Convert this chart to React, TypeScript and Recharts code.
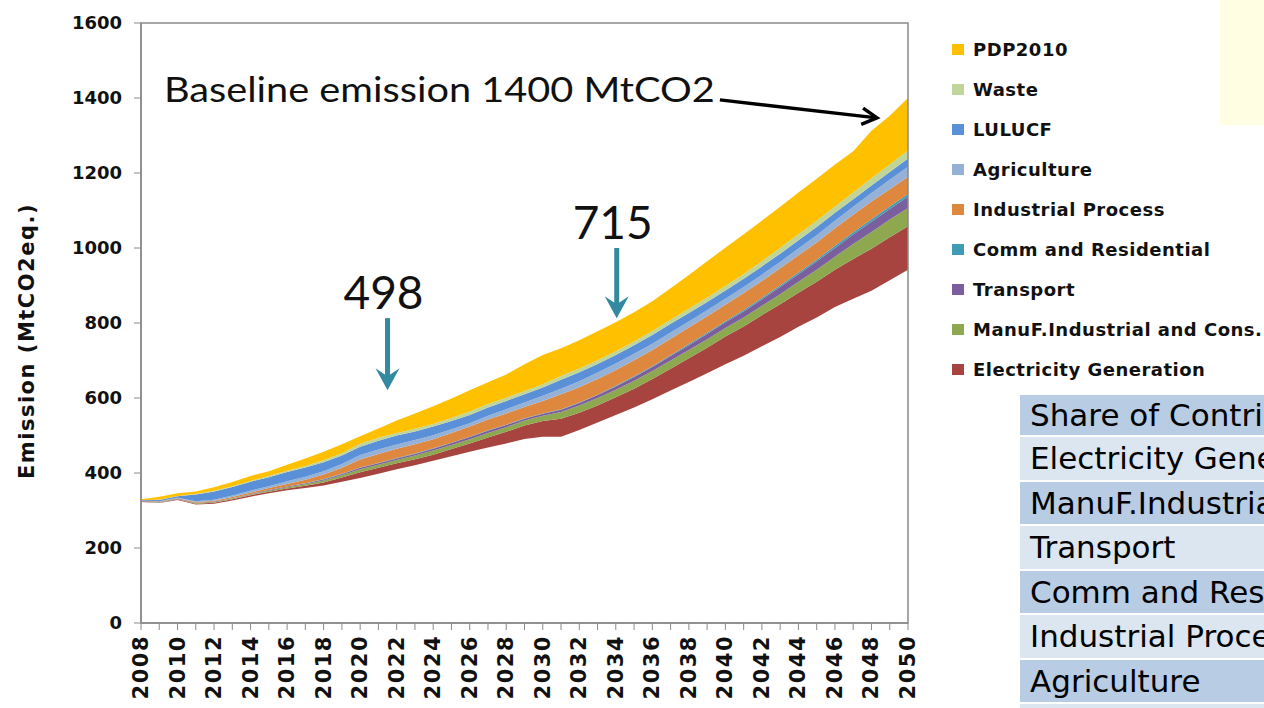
import { AreaChart, Area, XAxis, YAxis, ReferenceLine, ReferenceArea } from "recharts"

const YEARS = [
  2008, 2009, 2010, 2011, 2012, 2013, 2014, 2015, 2016, 2017,
  2018, 2019, 2020, 2021, 2022, 2023, 2024, 2025, 2026, 2027,
  2028, 2029, 2030, 2031, 2032, 2033, 2034, 2035, 2036, 2037,
  2038, 2039, 2040, 2041, 2042, 2043, 2044, 2045, 2046, 2047,
  2048, 2049, 2050,
]
const Y_TICKS = [0, 200, 400, 600, 800, 1000, 1200, 1400, 1600]

// emissions left after all measures (invisible bottom of the stack)
const REMAINING = [
  323, 320, 328, 316, 318, 327, 337, 346, 354, 360,
  367, 377, 387, 398, 410, 421, 433, 445, 457, 468,
  479, 491, 497, 497, 515, 535, 555, 575, 597, 620,
  643, 666, 690, 713, 738, 763, 790, 815, 843, 865,
  886, 914, 942,
]
const ELECTRICITY = [
  1, 1, 2, 2, 3, 3, 4, 4, 5, 6,
  8, 11, 15, 16, 16, 16, 16, 19, 22, 27,
  31, 36, 42, 48, 46, 45, 47, 50, 54, 58,
  63, 68, 74, 78, 83, 87, 91, 95, 99, 106,
  112, 115, 116,
]
const MANUF = [
  1, 1, 1, 2, 2, 2, 2, 3, 3, 4,
  5, 6, 8, 8, 9, 10, 11, 11, 11, 12,
  12, 13, 14, 18, 19, 20, 20, 21, 21, 22,
  22, 23, 23, 24, 25, 27, 29, 32, 35, 40,
  45, 47, 49,
]
const TRANSPORT = [
  1, 1, 1, 1, 1, 1, 1, 2, 2, 2,
  3, 3, 4, 4, 4, 4, 5, 5, 6, 6,
  6, 5, 5, 6, 7, 8, 9, 10, 11, 12,
  13, 14, 15, 16, 17, 19, 20, 22, 23, 25,
  27, 28, 30,
]
const COMM_RES = [
  0, 0, 0, 0, 0, 0, 0, 0, 0, 1,
  1, 1, 1, 1, 1, 1, 1, 1, 1, 1,
  1, 1, 1, 1, 1, 1, 2, 2, 2, 2,
  3, 3, 3, 4, 4, 4, 5, 5, 6, 6,
  7, 7, 7,
]
const IND_PROCESS = [
  1, 1, 1, 2, 2, 3, 4, 5, 7, 9,
  12, 16, 21, 24, 25, 25, 24, 26, 27, 29,
  30, 30, 33, 40, 41, 42, 42, 43, 43, 44,
  44, 44, 44, 45, 45, 46, 46, 46, 47, 47,
  47, 46, 46,
]
const AGRICULTURE = [
  0, 1, 1, 2, 3, 4, 5, 5, 7, 8,
  9, 10, 12, 12, 11, 11, 11, 10, 9, 10,
  11, 12, 14, 15, 16, 17, 17, 17, 17, 17,
  16, 16, 16, 16, 17, 17, 18, 19, 20, 21,
  23, 25, 27,
]
const LULUCF = [
  1, 3, 4, 18, 22, 23, 24, 24, 25, 25,
  24, 23, 22, 23, 24, 23, 23, 22, 22, 22,
  22, 22, 22, 24, 24, 23, 23, 23, 23, 23,
  23, 22, 22, 22, 22, 22, 22, 22, 21, 20,
  20, 21, 22,
]
const WASTE = [
  0, 1, 1, 1, 2, 2, 2, 3, 3, 4,
  5, 6, 8, 8, 7, 7, 7, 8, 9, 9,
  9, 9, 9, 10, 10, 10, 10, 10, 11, 11,
  11, 12, 12, 13, 14, 15, 16, 17, 17, 18,
  19, 20, 22,
]
const PDP2010 = [
  2, 8, 7, 7, 9, 11, 13, 13, 16, 20,
  23, 24, 20, 25, 33, 41, 47, 52, 57, 58,
  62, 71, 78, 74, 75, 77, 77, 78, 79, 84,
  90, 97, 102, 106, 108, 110, 111, 112, 112, 110,
  127, 130, 139,
]

// stacking order, bottom to top
const SERIES = [
  { key: "electricity", name: "Electricity Generation", color: "#A8443F", values: ELECTRICITY },
  { key: "manuf", name: "ManuF.Industrial and Cons.", color: "#8DA84E", values: MANUF },
  { key: "transport", name: "Transport", color: "#7A5E9E", values: TRANSPORT },
  { key: "commRes", name: "Comm and Residential", color: "#409CB4", values: COMM_RES },
  { key: "indProcess", name: "Industrial Process", color: "#DE873F", values: IND_PROCESS },
  { key: "agriculture", name: "Agriculture", color: "#95B1D6", values: AGRICULTURE },
  { key: "lulucf", name: "LULUCF", color: "#5990D8", values: LULUCF },
  { key: "waste", name: "Waste", color: "#BFD59A", values: WASTE },
  { key: "pdp2010", name: "PDP2010", color: "#FFC000", values: PDP2010 },
]

const SHARE_ROWS = [
  "Share of Contribution",
  "Electricity Generation",
  "ManuF.Industrial and Cons.",
  "Transport",
  "Comm and Residential",
  "Industrial Process",
  "Agriculture",
  "LULUCF",
]

const data = YEARS.map((year, i) => {
  const row: Record<string, number> = { year, remaining: REMAINING[i] }
  SERIES.forEach((s) => {
    row[s.key] = s.values[i]
  })
  return row
})

const AXIS_GREY = "#8a8a8a"
const TEAL = "#3389A0"
const TICK_FONT = "'DejaVu Sans', Verdana, sans-serif"
const NOTE_FONT = "Lato, 'Open Sans', sans-serif"

function YearTick({ x, y, payload }: any) {
  if (payload.value % 2 !== 0) return <g />
  return (
    <text
      x={x}
      y={y}
      transform={`rotate(-90 ${x} ${y})`}
      textAnchor="end"
      dominantBaseline="central"
      fontFamily={TICK_FONT}
      fontWeight={700}
      fontSize={21}
      letterSpacing={1.5}
      fill="#111"
    >
      {payload.value}
    </text>
  )
}

function YTitle({ viewBox }: any) {
  const vb = viewBox ?? { x: 0, y: 23, width: 141, height: 600 }
  const cx = vb.x + 27
  const cy = vb.y + vb.height / 2 + 18
  return (
    <text
      x={cx}
      y={cy}
      transform={`rotate(-90 ${cx} ${cy})`}
      textAnchor="middle"
      dominantBaseline="central"
      fontFamily={TICK_FONT}
      fontWeight={700}
      fontSize={21}
      letterSpacing={1.5}
      fill="#111"
    >
      Emission (MtCO2eq.)
    </text>
  )
}

const tealArrow = (label: string) => (p: any) => {
  const { x1, y1, x2, y2 } = p
  return (
    <g>
      <text x={x1 - 4} y={y1 - 9} textAnchor="middle" fontFamily={NOTE_FONT} fontSize={46} fill="#111">
        {label}
      </text>
      <line x1={x1} y1={y1} x2={x2} y2={y2 - 12} stroke={TEAL} strokeWidth={5} />
      <path d={`M ${x2} ${y2} L ${x2 - 12} ${y2 - 22} L ${x2} ${y2 - 14} L ${x2 + 12} ${y2 - 22} Z`} fill={TEAL} />
    </g>
  )
}

const baselineArrow = (p: any) => {
  const { x1, y1, x2, y2 } = p
  const ang = Math.atan2(y2 - y1, x2 - x1)
  const len = 17
  const a1 = ang + Math.PI - 0.5
  const a2 = ang + Math.PI + 0.5
  return (
    <g>
      <text
        x={x1 - 556}
        y={y1 + 2}
        textLength={551}
        lengthAdjust="spacingAndGlyphs"
        fontFamily={NOTE_FONT}
        fontSize={35}
        fill="#111"
      >
        Baseline emission 1400 MtCO2
      </text>
      <line x1={x1} y1={y1} x2={x2} y2={y2} stroke="#000" strokeWidth={3.5} />
      <polyline
        points={`${x2 + len * Math.cos(a1)},${y2 + len * Math.sin(a1)} ${x2},${y2} ${x2 + len * Math.cos(a2)},${y2 + len * Math.sin(a2)}`}
        fill="none"
        stroke="#000"
        strokeWidth={3.5}
        strokeLinejoin="miter"
      />
    </g>
  )
}

export default function App() {
  return (
    <div
      style={{
        position: "fixed",
        top: 0,
        left: 0,
        width: 1264,
        height: 708,
        overflow: "hidden",
        background: "#fff",
      }}
    >
      <div style={{ position: "absolute", left: 1220, top: 0, width: 44, height: 125, background: "#FFFDE2" }} />

      <AreaChart width={1264} height={708} data={data} margin={{ top: 23, right: 356, bottom: 0, left: 0 }}>
        <XAxis
          dataKey="year"
          type="number"
          domain={[2008, 2050]}
          ticks={YEARS}
          interval={0}
          height={85}
          tickSize={7}
          tickMargin={5}
          tick={<YearTick />}
          axisLine={{ stroke: AXIS_GREY, strokeWidth: 1.5 }}
          tickLine={{ stroke: AXIS_GREY }}
        />
        <YAxis
          type="number"
          domain={[0, 1600]}
          ticks={Y_TICKS}
          interval={0}
          width={141}
          tickSize={7}
          tickMargin={12}
          tick={{ fontFamily: TICK_FONT, fontWeight: 700, fontSize: 18, fill: "#111" }}
          axisLine={{ stroke: AXIS_GREY, strokeWidth: 1.5 }}
          tickLine={{ stroke: AXIS_GREY }}
          label={<YTitle />}
        />
        <Area
          type="linear"
          dataKey="remaining"
          stackId="stack"
          fill="none"
          stroke="none"
          dot={false}
          activeDot={false}
          isAnimationActive={false}
        />
        {SERIES.map((s) => (
          <Area
            key={s.key}
            type="linear"
            dataKey={s.key}
            name={s.name}
            stackId="stack"
            fill={s.color}
            fillOpacity={1}
            stroke="none"
            dot={false}
            activeDot={false}
            isAnimationActive={false}
          />
        ))}
        <ReferenceArea
          x1={2008}
          x2={2050}
          y1={0}
          y2={1600}
          fill="none"
          stroke={AXIS_GREY}
          strokeWidth={1.5}
          ifOverflow="visible"
        />
        <ReferenceLine
          segment={[{ x: 2021.5, y: 813 }, { x: 2021.5, y: 621 }]}
          ifOverflow="visible"
          shape={tealArrow("498")}
        />
        <ReferenceLine
          segment={[{ x: 2034.05, y: 1000 }, { x: 2034.05, y: 813 }]}
          ifOverflow="visible"
          shape={tealArrow("715")}
        />
        <ReferenceLine
          segment={[{ x: 2039.7, y: 1395 }, { x: 2048.3, y: 1347 }]}
          ifOverflow="visible"
          shape={baselineArrow}
        />
      </AreaChart>

      <div style={{ position: "absolute", left: 952, top: 29 }}>
        {[...SERIES].reverse().map((s) => (
          <div key={s.key} style={{ display: "flex", alignItems: "center", height: 40 }}>
            <span style={{ width: 12, height: 11, background: s.color, marginRight: 9, flexShrink: 0 }} />
            <span
              style={{
                fontFamily: TICK_FONT,
                fontWeight: 700,
                fontSize: 18,
                letterSpacing: 0.5,
                color: "#111",
                whiteSpace: "nowrap",
              }}
            >
              {s.name}
            </span>
          </div>
        ))}
      </div>

      <div style={{ position: "absolute", left: 1020, top: 395, width: 420 }}>
        {SHARE_ROWS.map((label, i) => (
          <div
            key={label}
            style={{
              height: i === 0 ? 40 : 42.5,
              marginBottom: 2,
              background: i % 2 === 0 ? "#B8CCE4" : "#DCE6F1",
              fontFamily: TICK_FONT,
              fontSize: 31,
              lineHeight: i === 0 ? "40px" : "42px",
              paddingLeft: 10,
              whiteSpace: "nowrap",
              color: "#000",
            }}
          >
            {label}
          </div>
        ))}
      </div>
    </div>
  )
}
